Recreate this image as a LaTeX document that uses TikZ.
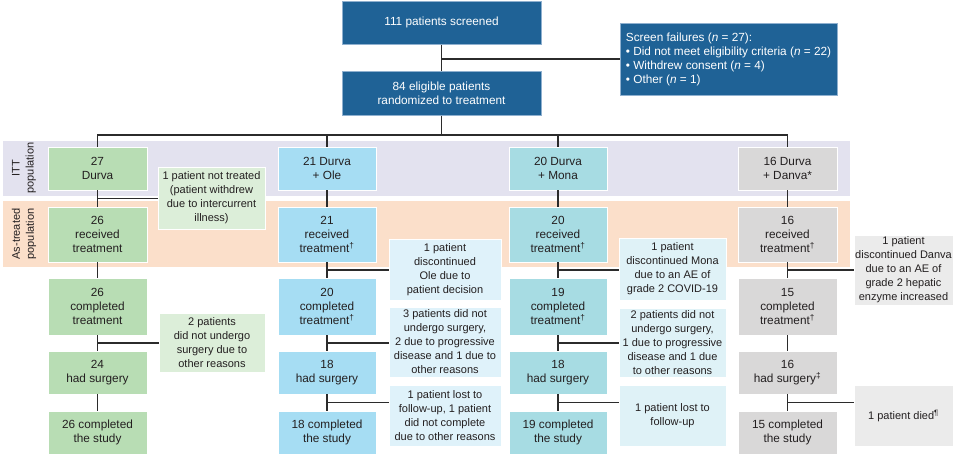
\documentclass[tikz,border=0pt]{standalone}
\usepackage{fontspec}
\setmainfont{Liberation Sans}
\usetikzlibrary{calc}
\definecolor{navy}{HTML}{1F6296}
\definecolor{navyedge}{HTML}{8FB0CF}
\definecolor{grn}{HTML}{B8DDB4}
\definecolor{grnnote}{HTML}{DCEED9}
\definecolor{sky}{HTML}{A6DDF3}
\definecolor{skynote}{HTML}{DFF2FA}
\definecolor{tealc}{HTML}{A7DCE3}
\definecolor{tealnote}{HTML}{DFF2F7}
\definecolor{gry}{HTML}{D9D8D8}
\definecolor{grynote}{HTML}{EBEBEB}
\definecolor{ittband}{HTML}{E3E2EF}
\definecolor{asband}{HTML}{FBDFCA}
\definecolor{txt}{HTML}{231F20}
\definecolor{ln}{HTML}{2B2B2B}
\newcommand{\mybox}[7]{\node[#1, minimum width={#4-#2}, minimum height={#5-#3}] (#6) at ({(#2+#4)/2},{(#3+#5)/2}) {#7};}
\newcommand{\sdag}{\textsuperscript{†}}
\tikzset{
  base/.style={inner sep=0pt, align=center, font=\fontsize{11.8}{14}\selectfont, text=txt},
  notefont/.style={font=\fontsize{11}{14}\selectfont},
  navybox/.style={base, fill=navy, draw=navyedge, line width=1pt, text=white},
  gbox/.style={base, fill=grn, draw=white, line width=0.8pt},
  gnote/.style={base, notefont, fill=grnnote, draw=white, line width=0.8pt},
  sbox/.style={base, fill=sky, draw=white, line width=0.8pt},
  snote/.style={base, notefont, fill=skynote, draw=white, line width=0.8pt},
  tbox/.style={base, fill=tealc, draw=white, line width=0.8pt},
  tnote/.style={base, notefont, fill=tealnote, draw=white, line width=0.8pt},
  abox/.style={base, fill=gry, draw=white, line width=0.8pt},
  anote/.style={base, notefont, fill=grynote, draw=white, line width=0.8pt},
  conn/.style={draw=ln, line width=1.3pt},
  bandlab/.style={base, notefont, rotate=90}
}
\begin{document}
\begin{tikzpicture}[x=1pt,y=-1pt]
\useasboundingbox (0,0) rectangle (953,459);
% bands
\fill[ittband] (3,141) rectangle (850,196);
\fill[asband] (3,201) rectangle (850,267);
\node[bandlab] (ittlab) at (24,168) {ITT\\population};
\node[bandlab] (aslab) at (24,234) {As-treated\\population};
% top
\mybox{navybox}{342}{1}{541}{44}{top}{111 patients screened}
\mybox{navybox}{342}{71}{541}{115}{rand}{84 eligible patients\\randomized to treatment}
\node[navybox, align=left, minimum width=217, minimum height=72] (sf) at (728.5,59)
  {Screen failures (\textit{n} = 27):\\• Did not meet eligibility criteria (\textit{n} = 22)\\• Withdrew consent (\textit{n} = 4)\\• Other (\textit{n} = 1)};
% column 1
\mybox{gbox}{48}{147}{147}{190}{d1}{27\\Durva}
\mybox{gbox}{48}{207}{147}{262}{d2}{26\\received\\treatment}
\mybox{gbox}{48}{278}{147}{335}{d3}{26\\completed\\treatment}
\mybox{gbox}{48}{351}{147}{394}{d4}{24\\had surgery}
\mybox{gbox}{48}{411}{147}{454}{d5}{26 completed\\the study}
\mybox{gnote}{158}{167}{265}{229}{dn1}{1 patient not treated\\(patient withdrew\\due to intercurrent\\illness)}
\mybox{gnote}{159}{313}{265}{372}{dn2}{2 patients\\did not undergo\\surgery due to\\other reasons}
% column 2
\mybox{sbox}{278}{147}{376}{190}{o1}{21 Durva\\+ Ole}
\mybox{sbox}{278}{207}{376}{262}{o2}{21\\received\\treatment\sdag}
\mybox{sbox}{278}{278}{376}{335}{o3}{20\\completed\\treatment\sdag}
\mybox{sbox}{278}{351}{376}{394}{o4}{18\\had surgery}
\mybox{sbox}{278}{411}{376}{454}{o5}{18 completed\\the study}
\mybox{snote}{389}{239}{501}{300}{on1}{1 patient\\discontinued\\Ole due to\\patient decision}
\mybox{snote}{389}{307}{501}{377}{on2}{3 patients did not\\undergo surgery,\\2 due to progressive\\disease and 1 due to\\other reasons}
\mybox{snote}{389}{385}{501}{446}{on3}{1 patient lost to\\follow-up, 1 patient\\did not complete\\due to other reasons}
% column 3
\mybox{tbox}{509}{147}{607}{190}{m1}{20 Durva\\+ Mona}
\mybox{tbox}{509}{207}{607}{262}{m2}{20\\received\\treatment\sdag}
\mybox{tbox}{509}{278}{607}{335}{m3}{19\\completed\\treatment\sdag}
\mybox{tbox}{509}{351}{607}{394}{m4}{18\\had surgery}
\mybox{tbox}{509}{411}{607}{454}{m5}{19 completed\\the study}
\mybox{tnote}{619}{238}{726}{300}{mn1}{1 patient\\discontinued Mona\\due to an AE of\\grade 2 COVID-19}
\mybox{tnote}{619}{308}{726}{377}{mn2}{2 patients did not\\undergo surgery,\\1 due to progressive\\disease and 1 due\\to other reasons}
\mybox{tnote}{619}{385}{726}{446}{mn3}{1 patient lost to\\follow-up}
% column 4
\mybox{abox}{738}{147}{837}{190}{a1}{16 Durva\\+ Danva*}
\mybox{abox}{738}{207}{837}{262}{a2}{16\\received\\treatment\sdag}
\mybox{abox}{738}{278}{837}{335}{a3}{15\\completed\\treatment\sdag}
\mybox{abox}{738}{351}{837}{394}{a4}{16\\had surgery\textsuperscript{‡}}
\mybox{abox}{738}{411}{837}{454}{a5}{15 completed\\the study}
\mybox{anote}{854}{235}{953}{305}{an1}{1 patient\\discontinued Danva\\due to an AE of\\grade 2 hepatic\\enzyme increased}
\mybox{anote}{854}{385}{953}{446}{an2}{1 patient died\textsuperscript{¶}}
% connectors top
\draw[conn] (top.south) -- (rand.north);
\draw[conn] (top.south |- sf.west) -- (sf.west);
\coordinate (bus) at (0,135);
\draw[conn] (rand.south) -- (rand.south |- bus);
\draw[conn] (d1.north) -- (d1.north |- bus) -| (a1.north);
\draw[conn] (o1.north) -- (o1.north |- bus);
\draw[conn] (m1.north) -- (m1.north |- bus);
% column verticals
\foreach \c in {d,o,m,a}{
  \draw[conn] (\c1.south) -- (\c2.north);
  \draw[conn] (\c2.south) -- (\c3.north);
  \draw[conn] (\c3.south) -- (\c4.north);
  \draw[conn] (\c4.south) -- (\c5.north);
}
% branches
\coordinate (bd1) at ($(d1.south)!0.5!(d2.north)$);
\draw[conn] (bd1) -- (bd1 -| dn1.west);
\coordinate (bd3) at ($(d3.south)!0.5!(d4.north)$);
\draw[conn] (bd3) -- (bd3 -| dn2.west);
\coordinate (bo2) at ($(o2.south)!0.5!(o3.north)$);
\draw[conn] (bo2) -- (bo2 -| on1.west);
\coordinate (bo3) at ($(o3.south)!0.5!(o4.north)$);
\draw[conn] (bo3) -- (bo3 -| on2.west);
\coordinate (bo4) at ($(o4.south)!0.5!(o5.north)$);
\draw[conn] (bo4) -- (bo4 -| on3.west);
\coordinate (bm2) at ($(m2.south)!0.5!(m3.north)$);
\draw[conn] (bm2) -- (bm2 -| mn1.west);
\coordinate (bm3) at ($(m3.south)!0.5!(m4.north)$);
\draw[conn] (bm3) -- (bm3 -| mn2.west);
\coordinate (bm4) at ($(m4.south)!0.5!(m5.north)$);
\draw[conn] (bm4) -- (bm4 -| mn3.west);
\coordinate (ba2) at ($(a2.south)!0.5!(a3.north)$);
\draw[conn] (ba2) -- (ba2 -| an1.west);
\coordinate (ba4) at ($(a4.south)!0.5!(a5.north)$);
\draw[conn] (ba4) -- (ba4 -| an2.west);
\end{tikzpicture}
\end{document}
